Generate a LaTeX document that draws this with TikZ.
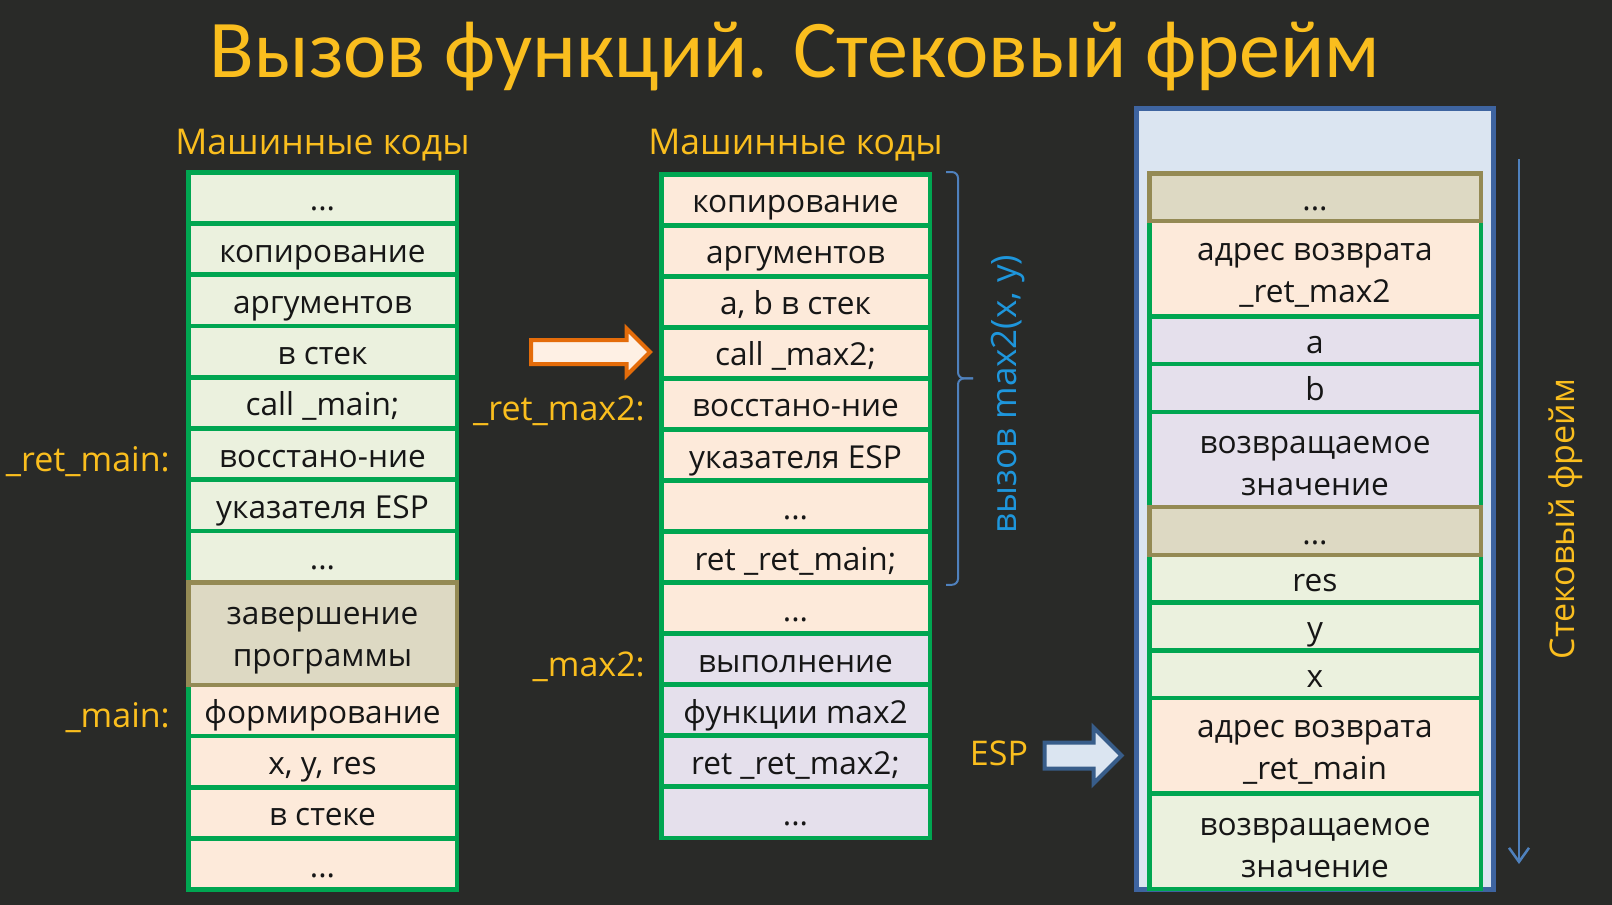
\documentclass[tikz,border=0pt]{standalone}
\usepackage{fontspec}
\setmainfont{Open Sans}
\newfontfamily\titlefamily{Carlito}
\usetikzlibrary{shapes.arrows,arrows.meta,calc}

\definecolor{bg}{RGB}{41,42,40}
\definecolor{gold}{RGB}{250,190,30}
\definecolor{callblue}{RGB}{30,150,220}
\definecolor{linkblue}{RGB}{79,129,189}
\definecolor{framefill}{RGB}{219,229,241}
\definecolor{frameline}{RGB}{62,100,160}
\definecolor{cellgreen}{RGB}{0,166,81}
\definecolor{lightgreen}{RGB}{235,241,222}
\definecolor{peach}{RGB}{253,234,218}
\definecolor{lavender}{RGB}{229,224,236}
\definecolor{tan}{RGB}{221,217,195}
\definecolor{tanline}{RGB}{148,138,84}
\definecolor{ink}{RGB}{22,22,22}
\definecolor{orangeline}{RGB}{228,108,10}
\definecolor{orangefill}{RGB}{254,240,228}
\definecolor{espline}{RGB}{56,93,138}

\newcommand\cellfont{\fontsize{31.6}{42}\selectfont}
\newcommand\labelfont{\fontsize{34}{42}\selectfont}

\begin{document}
\begin{tikzpicture}[x=1pt,y=-1pt,
  cell/.style={draw=cellgreen, line width=4.5pt, inner sep=0pt, text=ink, font=\cellfont},
  single/.style={text height=26pt, text depth=0pt},
  % two-line cells: the text sits a little below the cell's middle
  double/.style={label={[font=\cellfont, text=ink, align=center, inner sep=0pt, yshift=-7pt]center:#1}},
  lcol/.style={cell, minimum width=268.5pt, minimum height=51.25pt},
  lcol2/.style={cell, minimum width=268.5pt, minimum height=102.5pt},
  mcol/.style={cell, minimum width=268.5pt, minimum height=51.04pt},
  rcol/.style={cell, minimum width=331.5pt, minimum height=47.7pt},
  rcol2/.style={cell, minimum width=331.5pt, minimum height=95.4pt},
  grn/.style={fill=lightgreen},
  pch/.style={fill=peach},
  lav/.style={fill=lavender},
  tn/.style={fill=tan, draw=tanline},
  lbl/.style={text=gold, font=\labelfont, inner sep=0pt},
  head/.style={text=gold, font=\fontsize{35.5}{44}\selectfont, inner sep=0pt}
]
\fill[bg] (0,0) rectangle (1612,905);
\useasboundingbox (0,0) rectangle (1612,905);

% title
\node[text=gold, font=\titlefamily\fontsize{82}{92}\selectfont, anchor=base, inner sep=0pt]
  (title) at (795,77) {Вызов функций. Стековый фрейм};

% column headings
\node[head, anchor=base] (hL) at (322.5,154) {Машинные коды};
\node[head, anchor=base] (hM) at (795.5,154) {Машинные коды};

% left column: program code
\node[lcol, grn, single] (L1)  at (322.5,197.9) {...};
\node[lcol, grn, single] (L2)  at (322.5,249.1) {копирование};
\node[lcol, grn, single] (L3)  at (322.5,300.4) {аргументов};
\node[lcol, grn, single] (L4)  at (322.5,351.6) {в стек};
\node[lcol, grn, single] (L5)  at (322.5,402.9) {call \_main;};
\node[lcol, grn, single] (L6)  at (322.5,454.1) {восстано-ние};
\node[lcol, grn, single] (L7)  at (322.5,505.4) {указателя ESP};
\node[lcol, grn, single] (L8)  at (322.5,556.6) {...};
\node[lcol, pch, single] (L10) at (322.5,710.4) {формирование};
\node[lcol, pch, single] (L11) at (322.5,761.6) {x, y, res};
\node[lcol, pch, single] (L12) at (322.5,812.9) {в стеке};
\node[lcol, pch, single] (L13) at (322.5,864.1) {...};
\node[lcol2, tn, double={завершение\\программы}] (L9) at (322.5,633.5) {};

% middle column: caller and callee code
\node[mcol, pch, single] (M1)  at (795.5,199.8) {копирование};
\node[mcol, pch, single] (M2)  at (795.5,250.8) {аргументов};
\node[mcol, pch, single] (M3)  at (795.5,301.8) {a, b в стек};
\node[mcol, pch, single] (M4)  at (795.5,352.9) {call \_max2;};
\node[mcol, pch, single] (M5)  at (795.5,403.9) {восстано-ние};
\node[mcol, pch, single] (M6)  at (795.5,455.0) {указателя ESP};
\node[mcol, pch, single] (M7)  at (795.5,506.0) {...};
\node[mcol, pch, single] (M8)  at (795.5,557.0) {ret \_ret\_main;};
\node[mcol, pch, single] (M9)  at (795.5,608.1) {...};
\node[mcol, lav, single] (M10) at (795.5,659.1) {выполнение};
\node[mcol, lav, single] (M11) at (795.5,710.2) {функции max2};
\node[mcol, lav, single] (M12) at (795.5,761.2) {ret \_ret\_max2;};
\node[mcol, lav, single] (M13) at (795.5,812.3) {...};

% labels
\node[lbl, anchor=base east] (lretmain) at (170,471) {\_ret\_main:};
\node[lbl, anchor=base east] (lmain)    at (170,727) {\_main:};
\node[lbl, anchor=base east] (lretmax)  at (645,420) {\_ret\_max2:};
\node[lbl, anchor=base east] (lmax)     at (645,676) {\_max2:};

% call pointer
\node[single arrow, draw=orangeline, fill=orangefill, line width=4pt,
      minimum height=119pt, inner sep=0pt, inner ysep=10pt,
      single arrow head extend=11.5pt, single arrow tip angle=90]
  (callptr) at (584.5,352) {};

% brace over the call sequence
\coordinate (bt) at ([xshift=26pt]M1.north east);
\coordinate (bb) at ([xshift=26pt]M8.south east);
\coordinate (bm) at ($(bt)!0.5!(bb)$);
\draw[linkblue, line width=2pt, rounded corners=6pt]
  ([xshift=-12pt]bt) -- (bt) -- (bm) -- ([xshift=15pt]bm);
\draw[linkblue, line width=2pt, rounded corners=6pt]
  ([xshift=15pt]bm) -- (bm) -- (bb) -- ([xshift=-12pt]bb);
\node[text=callblue, font=\fontsize{35}{42}\selectfont, rotate=90, inner sep=0pt]
  (calltxt) at (1008,394) {вызов max2(x, y)};

% stack frame
\node[draw=frameline, fill=framefill, line width=5pt, minimum width=357pt,
      minimum height=781pt, inner sep=0pt] (frame) at (1315,499) {};

\node[rcol2, pch, double={адрес возврата\\\_ret\_max2}]  (R2)  at (1315,268.65) {};
\node[rcol,  lav, single] (R3)  at (1315,340.2) {a};
\node[rcol,  lav, single] (R4)  at (1315,387.9) {b};
\node[rcol2, lav, double={возвращаемое\\значение}]       (R5)  at (1315,459.45) {};
\node[rcol,  grn, single] (R7)  at (1315,578.7) {res};
\node[rcol,  grn, single] (R8)  at (1315,626.4) {y};
\node[rcol,  grn, single] (R9)  at (1315,674.1) {x};
\node[rcol2, pch, double={адрес возврата\\\_ret\_main}]  (R10) at (1315,745.65) {};
\node[rcol2, grn, double={возвращаемое\\значение}]       (R11) at (1315,841.05) {};
\node[rcol,  tn,  single] (R1)  at (1315,197.1) {...};
\node[rcol,  tn,  single] (R6)  at (1315,531.0) {...};

% stack pointer
\node[lbl, anchor=base] (esp) at (999,765) {ESP};
\node[single arrow, draw=espline, fill=framefill, line width=4pt,
      minimum height=77pt, inner sep=0pt, inner ysep=11pt,
      single arrow head extend=15pt, single arrow tip angle=90]
  (espptr) at (1076.5,755.5) {};

% growth direction of the frame
\coordinate (gtop) at (1519,159);
\coordinate (gbot) at (1519,864);
\draw[linkblue, line width=2.5pt, -{Straight Barb[length=14pt,width=20pt,line width=2.5pt]}]
  (gtop) -- (gbot);
\node[text=gold, font=\labelfont, rotate=90, inner sep=0pt] (frametxt) at (1566,519) {Стековый фрейм};

\end{tikzpicture}
\end{document}
